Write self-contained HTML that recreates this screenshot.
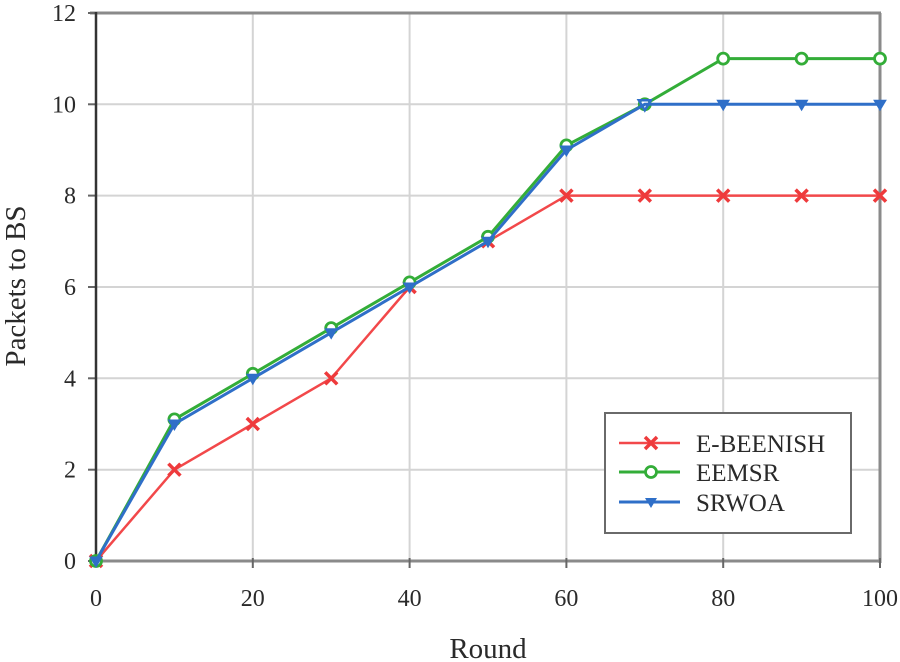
<!DOCTYPE html>
<html><head><meta charset="utf-8"><style>
html,body{margin:0;padding:0;background:#fff;}
svg{display:block;}
text{font-family:"Liberation Serif",serif;fill:#2a2a2a;}
</style></head><body>
<svg width="900" height="662" viewBox="0 0 900 662" xmlns="http://www.w3.org/2000/svg">
<rect width="900" height="662" fill="#fff"/>
<g stroke="#d4d4d4" stroke-width="2">
<line x1="252.8" y1="13" x2="252.8" y2="561"/>
<line x1="409.6" y1="13" x2="409.6" y2="561"/>
<line x1="566.4" y1="13" x2="566.4" y2="561"/>
<line x1="723.2" y1="13" x2="723.2" y2="561"/>
<line x1="96" y1="469.7" x2="880" y2="469.7"/>
<line x1="96" y1="378.3" x2="880" y2="378.3"/>
<line x1="96" y1="287" x2="880" y2="287"/>
<line x1="96" y1="195.6" x2="880" y2="195.6"/>
<line x1="96" y1="104.3" x2="880" y2="104.3"/>
</g>
<g stroke="#8a8a8a" stroke-width="3" fill="none">
<line x1="90" y1="13" x2="881" y2="13"/>
<line x1="880" y1="13" x2="880" y2="563"/>
<line x1="96" y1="561" x2="881" y2="561"/>
</g>
<g stroke="#666" stroke-width="2">
<line x1="88" y1="13" x2="96" y2="13"/>
<line x1="88" y1="104.3" x2="96" y2="104.3"/>
<line x1="88" y1="195.6" x2="96" y2="195.6"/>
<line x1="88" y1="287" x2="96" y2="287"/>
<line x1="88" y1="378.3" x2="96" y2="378.3"/>
<line x1="88" y1="469.7" x2="96" y2="469.7"/>
<line x1="88" y1="561" x2="96" y2="561"/>
<line x1="252.8" y1="558" x2="252.8" y2="568"/>
<line x1="409.6" y1="558" x2="409.6" y2="568"/>
<line x1="566.4" y1="558" x2="566.4" y2="568"/>
<line x1="723.2" y1="558" x2="723.2" y2="568"/>
<line x1="880" y1="558" x2="880" y2="568"/>
</g>
<line x1="96" y1="12" x2="96" y2="563" stroke="#333" stroke-width="2.5"/>

<g font-size="24" text-anchor="end">
<text x="76" y="21">12</text>
<text x="76" y="112.3">10</text>
<text x="76" y="203.6">8</text>
<text x="76" y="295">6</text>
<text x="76" y="386.3">4</text>
<text x="76" y="477.7">2</text>
<text x="76" y="569">0</text>
</g>
<g font-size="24" text-anchor="middle">
<text x="96" y="606">0</text>
<text x="252.8" y="606">20</text>
<text x="409.6" y="606">40</text>
<text x="566.4" y="606">60</text>
<text x="723.2" y="606">80</text>
<text x="880" y="606">100</text>
</g>
<text x="488" y="658" font-size="29" text-anchor="middle">Round</text>
<text transform="translate(25,286) rotate(-90)" font-size="29" text-anchor="middle">Packets to BS</text>

<!-- Red E-BEENISH -->
<polyline fill="none" stroke="#f2484a" stroke-width="2.5" points="96,561 174.4,469.7 252.8,424 331.2,378.3 409.6,287 488,241.3 566.4,195.6 644.8,195.6 723.2,195.6 801.6,195.6 880,195.6"/>
<g stroke="#ee3a3c" stroke-width="3.5">
<path d="M90,555l12,12M102,555l-12,12"/>
<path d="M168.4,463.7l12,12M180.4,463.7l-12,12"/>
<path d="M246.8,418l12,12M258.8,418l-12,12"/>
<path d="M325.2,372.3l12,12M337.2,372.3l-12,12"/>
<path d="M403.6,281l12,12M415.6,281l-12,12"/>
<path d="M482,235.3l12,12M494,235.3l-12,12"/>
<path d="M560.4,189.6l12,12M572.4,189.6l-12,12"/>
<path d="M638.8,189.6l12,12M650.8,189.6l-12,12"/>
<path d="M717.2,189.6l12,12M729.2,189.6l-12,12"/>
<path d="M795.6,189.6l12,12M807.6,189.6l-12,12"/>
<path d="M874,189.6l12,12M886,189.6l-12,12"/>
</g>

<!-- Green EEMSR -->
<polyline fill="none" stroke="#33ad38" stroke-width="3" points="96,561 174.4,419.4 252.8,373.8 331.2,328.1 409.6,282.4 488,236.8 566.4,145.4 644.8,104.3 723.2,58.6 801.6,58.6 880,58.6"/>
<g fill="#fff" stroke="#33ad38" stroke-width="2.8">
<circle cx="96" cy="561" r="5.5"/>
<circle cx="174.4" cy="419.4" r="5.5"/>
<circle cx="252.8" cy="373.8" r="5.5"/>
<circle cx="331.2" cy="328.1" r="5.5"/>
<circle cx="409.6" cy="282.4" r="5.5"/>
<circle cx="488" cy="236.8" r="5.5"/>
<circle cx="566.4" cy="145.4" r="5.5"/>
<circle cx="644.8" cy="104.3" r="5.5"/>
<circle cx="723.2" cy="58.6" r="5.5"/>
<circle cx="801.6" cy="58.6" r="5.5"/>
<circle cx="880" cy="58.6" r="5.5"/>
</g>

<!-- Blue SRWOA -->
<polyline fill="none" stroke="#2f6fc8" stroke-width="3" points="96,561 174.4,424 252.8,378.3 331.2,332.7 409.6,287 488,241.3 566.4,150 644.8,104.3 723.2,104.3 801.6,104.3 880,104.3"/>
<g fill="#2f6fc8" stroke="#2f6fc8" stroke-width="1">
<path d="M90,557h12l-6,10z"/>
<path d="M168.4,420h12l-6,10z"/>
<path d="M246.8,374.3h12l-6,10z"/>
<path d="M325.2,328.7h12l-6,10z"/>
<path d="M403.6,283h12l-6,10z"/>
<path d="M482,237.3h12l-6,10z"/>
<path d="M560.4,146h12l-6,10z"/>
<path d="M717.2,100.3h12l-6,10z"/>
<path d="M795.6,100.3h12l-6,10z"/>
<path d="M874,100.3h12l-6,10z"/>
</g>
<path d="M638.8,100.3h12l-6,10z" fill="none" stroke="#2f6fc8" stroke-width="2.5"/>

<!-- Legend -->
<rect x="605" y="413" width="246" height="120" fill="#fff" stroke="#6a6a6a" stroke-width="2"/>
<line x1="619" y1="443" x2="680" y2="443" stroke="#f2484a" stroke-width="2.5"/>
<path d="M645,437l12,12M657,437l-12,12" stroke="#ee3a3c" stroke-width="3.5"/>
<line x1="619" y1="472" x2="680" y2="472" stroke="#33ad38" stroke-width="3"/>
<circle cx="651" cy="472" r="5.5" fill="#fff" stroke="#33ad38" stroke-width="2.8"/>
<line x1="619" y1="502" x2="680" y2="502" stroke="#2f6fc8" stroke-width="3"/>
<path d="M645,498h12l-6,10z" fill="#2f6fc8"/>
<g font-size="25">
<text x="696" y="452">E-BEENISH</text>
<text x="696" y="481">EEMSR</text>
<text x="696" y="511">SRWOA</text>
</g>
</svg>
</body></html>
